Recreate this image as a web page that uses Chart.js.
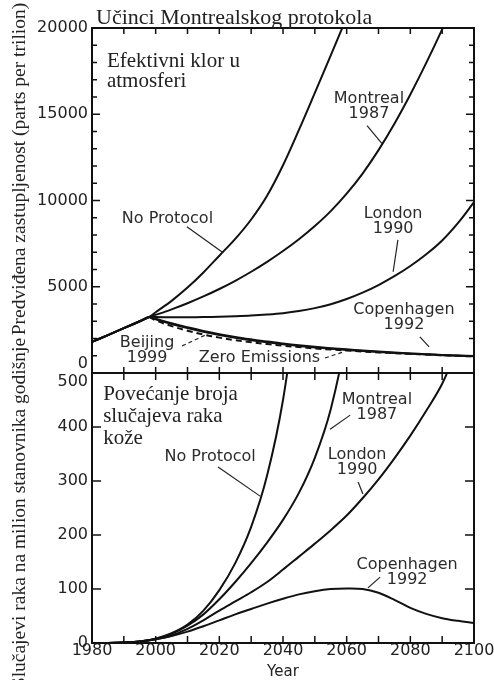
<!DOCTYPE html>
<html>
<head>
<meta charset="utf-8">
<script src="https://cdn.jsdelivr.net/npm/chart.js@4.4.1/dist/chart.umd.min.js"></script>
<style>
  body { margin: 0; background: #fff; }
  #wrap { position: relative; width: 494px; height: 680px; overflow: hidden; }
  canvas { position: absolute; left: 0; }
  #topCanvas { top: 0; }
  #botCanvas { top: 360px; }
  .serif { position: absolute; font-family: "Liberation Serif", serif; color: #222; white-space: nowrap; }
  #title { left: 96px; top: 4px; font-size: 22px; line-height: 26px; }
  .ytitle { width: 380px; height: 24px; line-height: 24px; font-size: 19.5px; text-align: center; transform: rotate(-90deg); }
  #ytTop { left: -171px; top: 157px; }
  #ytBot { left: -171px; top: 501px; }
</style>
</head>
<body>
<div id="wrap">
  <canvas id="topCanvas" width="494" height="380"></canvas>
  <canvas id="botCanvas" width="494" height="320"></canvas>
  <div id="title" class="serif">Učinci Montrealskog protokola</div>
  <div id="ytTop" class="serif ytitle">Predviđena zastupljenost (parts per trilion)</div>
  <div id="ytBot" class="serif ytitle">Slučajevi raka na milion stanovnika godišnje</div>
</div>
<script>
// --- effective chlorine (ppt) ---
const topYears = [1980, 1985, 1990, 1995, 1998, 2000, 2005, 2010, 2015, 2020, 2025, 2030, 2035, 2040, 2045, 2050,
  2055, 2060, 2065, 2070, 2075, 2080, 2085, 2090, 2095, 2100];
const noProtocolPpt = [1800, 2200, 2600, 3000, 3250, 3520, 4180, 4950, 5830, 6800, 7775, 8900, 10275, 12040, 14090, 16240,
  18410, 20610, null, null, null, null, null, null, null, null];
const montrealPpt = [1800, 2200, 2600, 3000, 3250, 3370, 3690, 4045, 4440, 4870, 5345, 5870, 6445, 7070, 7755, 8520,
  9385, 10395, 11560, 12920, 14450, 16145, 17975, 19920, 21975, 24220];
const londonPpt = [1800, 2200, 2600, 3000, 3250, 3240, 3230, 3230, 3240, 3260, 3290, 3330, 3390, 3470, 3590, 3760,
  3990, 4290, 4660, 5100, 5610, 6200, 6880, 7680, 8700, 9900];
const copenhagenPpt = [1800, 2200, 2600, 3000, 3250, 3150, 2880, 2650, 2440, 2250, 2090, 1950, 1820, 1710, 1610, 1520,
  1440, 1370, 1300, 1240, 1185, 1135, 1090, 1050, 1015, 980];
const beijingPpt = [null, null, null, null, 3250, 3120, 2840, 2600, 2390, 2200, 2040, 1900, 1775, 1665, 1570, 1485,
  1410, 1340, 1275, 1215, 1165, 1120, 1075, 1035, 1000, 970];
const zeroEmissionsPpt = [null, null, null, null, 3250, 3050, 2720, 2450, 2230, 2050, 1900, 1780, 1675, 1585, 1500, 1425,
  1360, 1300, 1245, 1195, 1150, 1110, 1070, 1030, 995, 960];

// --- skin cancer cases per million per year, lower panel ---
const botYears = [1980, 1985, 1990, 1995, 2000, 2005, 2010, 2015, 2020, 2025, 2030, 2035, 2040, 2045, 2050, 2055,
  2060, 2065, 2070, 2075, 2080, 2085, 2090, 2095, 2100];
const noProtocolCases = [0, 0, 1, 3, 8, 18, 34, 60, 98, 148, 215, 310, 450, 660, null, null,
  null, null, null, null, null, null, null, null, null];
const montrealCases = [0, 0, 1, 3, 8, 17, 32, 53, 81, 113, 148, 186, 228, 278, 343, 433,
  573, 780, null, null, null, null, null, null, null];
const londonCases = [0, 0, 1, 3, 7, 14, 26, 42, 60, 77, 94, 113, 136, 160, 184, 209,
  236, 268, 303, 342, 384, 430, 480, 550, null];
const copenhagenCases = [0, 0, 1, 3, 7, 13, 21, 31, 42, 53, 63, 73, 82, 90, 96, 100,
  101, 100, 93, 80, 65, 54, 46, 41, 37];

const xTickYears = [1980, 1990, 2000, 2010, 2020, 2030, 2040, 2050, 2060, 2070, 2080, 2090, 2100];

// curve labels, anchored in data units (year, value)
const topLabels = [
  { lines: ['Montreal', '1987'], at: [2067.0, 15450] },
  { lines: ['No Protocol'], at: [2003.7, 8940] },
  { lines: ['London', '1990'], at: [2074.6, 8770] },
  { lines: ['Copenhagen', '1992'], at: [2078.0, 3220] },
  { lines: ['Beijing', '1999'], at: [1997.3, 1340] },
  { lines: ['Zero Emissions'], at: [2032.6, 870] }
];
const topLeaders = [
  { from: [2066.4, 14340], to: [2071.1, 13300] },
  { from: [2009.8, 8480], to: [2021.2, 6970] },
  { from: [2076.1, 7720], to: [2074.6, 5870] },
  { from: [2083.0, 2090], to: [2085.9, 1510] },
  { from: [2008.3, 1570], to: [2016.4, 2265], dashed: true },
  { from: [2053.2, 870], to: [2058.9, 1220], dashed: true }
];
const botLabels = [
  { lines: ['Montreal', '1987'], at: [2069.5, 437] },
  { lines: ['No Protocol'], at: [2017.1, 344] },
  { lines: ['London', '1990'], at: [2063.3, 335] },
  { lines: ['Copenhagen', '1992'], at: [2079.0, 131] }
];
const botLeaders = [
  { from: [2061.1, 422], to: [2054.8, 396] },
  { from: [2019.6, 326], to: [2032.8, 272] },
  { from: [2063.6, 298], to: [2065.1, 276] },
  { from: [2070.5, 122], to: [2066.7, 102] }
];

const INK = '#111';
const SANS = '"DejaVu Sans", sans-serif';
const SERIF = '"Liberation Serif", serif';

function lineSet(label, years, values, dashed) {
  return {
    label,
    data: years.map((x, i) => ({ x, y: values[i] })),
    borderColor: INK,
    borderWidth: 2,
    borderDash: dashed ? [6, 4] : [],
    pointRadius: 0,
    tension: 0.35,
    fill: false
  };
}

// frame, inward ticks, leader lines and text
const panelDecor = {
  id: 'panelDecor',
  afterDatasetsDraw(chart, args, o) {
    const { ctx, chartArea: a, scales: { x, y } } = chart;
    ctx.save();
    ctx.strokeStyle = INK;
    ctx.lineWidth = 1.5;
    ctx.beginPath();
    y.ticks.forEach(t => {
      const py = y.getPixelForValue(t.value);
      const len = t.value % o.majorEvery === 0 ? o.majorLen : o.minorLen;
      ctx.moveTo(a.left, py); ctx.lineTo(a.left + len, py);
      ctx.moveTo(a.right, py); ctx.lineTo(a.right - len, py);
    });
    xTickYears.forEach(v => {
      const px = x.getPixelForValue(v);
      ctx.moveTo(px, a.top); ctx.lineTo(px, a.top + o.xLen);
      ctx.moveTo(px, a.bottom); ctx.lineTo(px, a.bottom - o.xLen);
    });
    ctx.stroke();

    ctx.lineWidth = 2;
    ctx.strokeRect(a.left, a.top, a.right - a.left, a.bottom - a.top);

    ctx.strokeStyle = '#222';
    ctx.lineWidth = 1.2;
    o.leaders.forEach(l => {
      ctx.setLineDash(l.dashed ? [4, 3] : []);
      ctx.beginPath();
      ctx.moveTo(x.getPixelForValue(l.from[0]), y.getPixelForValue(l.from[1]));
      ctx.lineTo(x.getPixelForValue(l.to[0]), y.getPixelForValue(l.to[1]));
      ctx.stroke();
    });
    ctx.setLineDash([]);

    ctx.fillStyle = '#2b2b2b';
    ctx.font = '16px ' + SANS;
    ctx.textAlign = 'center';
    ctx.textBaseline = 'middle';
    o.labels.forEach(lb => {
      const cx = x.getPixelForValue(lb.at[0]);
      const cy = y.getPixelForValue(lb.at[1]);
      const n = lb.lines.length;
      lb.lines.forEach((t, i) => ctx.fillText(t, cx, cy + (i - (n - 1) / 2) * 15));
    });

    ctx.fillStyle = '#222';
    ctx.font = '21px ' + SERIF;
    ctx.textAlign = 'left';
    const nx = x.getPixelForValue(o.note.at[0]);
    const ny = y.getPixelForValue(o.note.at[1]);
    o.note.lines.forEach((t, i) => ctx.fillText(t, nx, ny + i * o.note.gap));
    ctx.restore();
  }
};

const tickFont = { family: SANS, size: 16, lineHeight: 1.15 };

new Chart(document.getElementById('topCanvas'), {
  type: 'line',
  data: {
    datasets: [
      lineSet('No Protocol', topYears, noProtocolPpt),
      lineSet('Montreal 1987', topYears, montrealPpt),
      lineSet('London 1990', topYears, londonPpt),
      lineSet('Copenhagen 1992', topYears, copenhagenPpt),
      lineSet('Beijing 1999', topYears, beijingPpt),
      lineSet('Zero Emissions', topYears, zeroEmissionsPpt, true)
    ]
  },
  options: {
    responsive: false,
    animation: false,
    layout: { padding: { top: 28, right: 20, bottom: 7, left: 0 } },
    plugins: {
      legend: { display: false },
      tooltip: { enabled: false },
      panelDecor: {
        majorEvery: 5000, majorLen: 8, minorLen: 5, xLen: 6,
        labels: topLabels, leaders: topLeaders,
        note: { lines: ['Efektivni klor u', 'atmosferi'], at: [1984.7, 18060], gap: 20 }
      }
    },
    scales: {
      x: { type: 'linear', min: 1980, max: 2100, display: false },
      y: {
        min: 0, max: 20000,
        grid: { display: false, drawTicks: false },
        border: { display: false },
        ticks: {
          stepSize: 1000, autoSkip: false, padding: 4, color: '#222', font: tickFont,
          callback: v => v % 5000 ? '' : (v === 0 ? ['0', ''] : String(v))
        },
        afterFit: s => { s.width = 92; s.paddingTop = 0; s.paddingBottom = 0; }
      }
    }
  },
  plugins: [panelDecor]
});

new Chart(document.getElementById('botCanvas'), {
  type: 'line',
  data: {
    datasets: [
      lineSet('No Protocol', botYears, noProtocolCases),
      lineSet('Montreal 1987', botYears, montrealCases),
      lineSet('London 1990', botYears, londonCases),
      lineSet('Copenhagen 1992', botYears, copenhagenCases)
    ]
  },
  options: {
    responsive: false,
    animation: false,
    layout: { padding: { top: 13, right: 20, bottom: 0, left: 0 } },
    plugins: {
      legend: { display: false },
      tooltip: { enabled: false },
      panelDecor: {
        majorEvery: 100, majorLen: 9, minorLen: 9, xLen: 7,
        labels: botLabels, leaders: botLeaders,
        note: { lines: ['Povećanje broja', 'slučajeva raka', 'kože'], at: [1983.5, 461], gap: 22 }
      }
    },
    scales: {
      x: {
        type: 'linear', min: 1980, max: 2100,
        grid: { display: false, drawTicks: false },
        border: { display: false },
        ticks: {
          stepSize: 20, maxRotation: 0, autoSkip: false, padding: 0, color: '#222',
          font: { family: SANS, size: 16, lineHeight: 1 },
          callback: v => String(v)
        },
        title: { display: true, text: 'Year', color: '#222', font: { family: SANS, size: 15, lineHeight: 1 }, padding: 0 },
        afterFit: s => { s.height = 37; s.paddingLeft = 0; s.paddingRight = 0; }
      },
      y: {
        min: 0, max: 500,
        grid: { display: false, drawTicks: false },
        border: { display: false },
        ticks: {
          stepSize: 100, autoSkip: false, padding: 4, color: '#222', font: tickFont,
          callback: v => v === 500 ? ['', '500'] : String(v)
        },
        afterFit: s => { s.width = 92; s.paddingTop = 0; s.paddingBottom = 0; }
      }
    }
  },
  plugins: [panelDecor]
});
</script>
</body>
</html>
